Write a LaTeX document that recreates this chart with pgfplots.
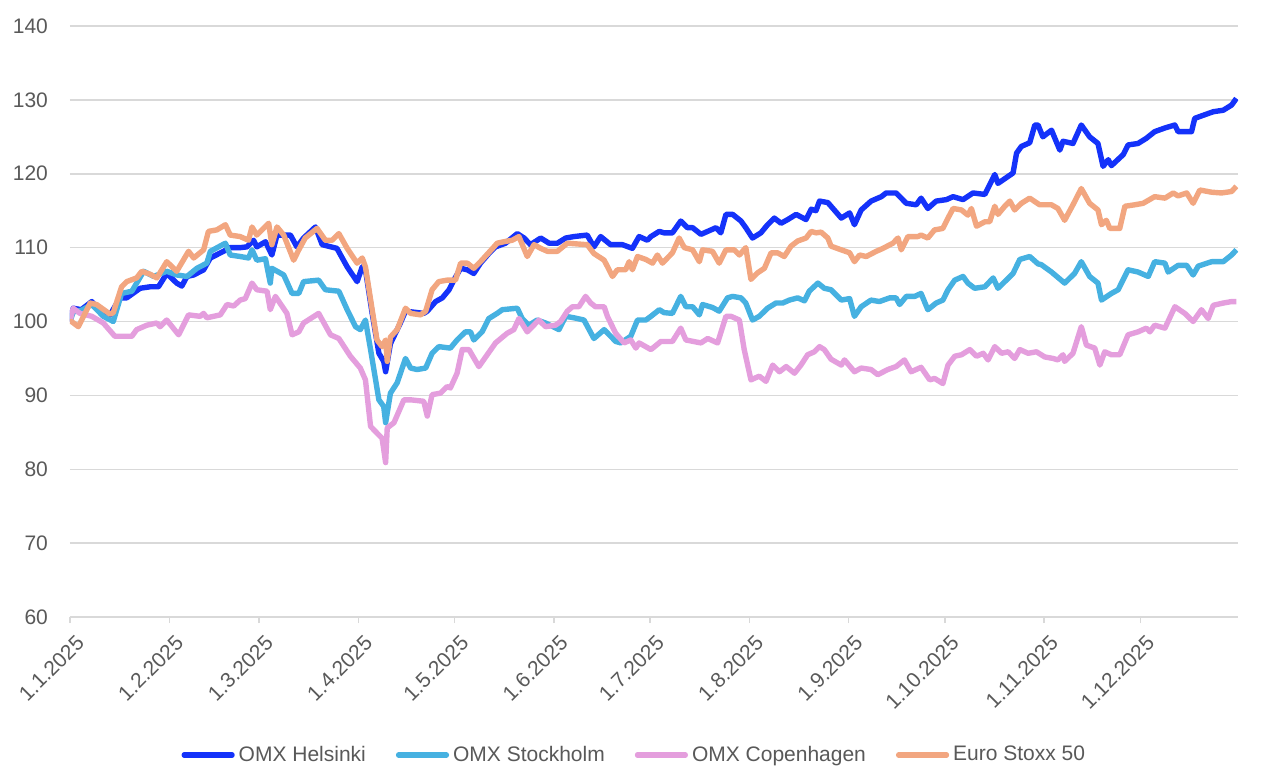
\documentclass[border=0pt]{standalone}
\usepackage{fontspec}
\setmainfont{Liberation Sans}
\usepackage{pgfplots}
\pgfplotsset{compat=1.18}
\definecolor{cH}{RGB}{20,50,250}
\definecolor{cS}{RGB}{70,177,225}
\definecolor{cC}{RGB}{228,158,221}
\definecolor{cE}{RGB}{242,166,128}
\definecolor{gridgray}{RGB}{217,217,217}
\definecolor{txt}{RGB}{89,89,89}
\begin{document}
\begin{tikzpicture}
\useasboundingbox (-35pt,-80.5pt) rectangle (598pt,308.5pt);
\begin{axis}[
  at={(0,0)}, anchor=south west,
  scale only axis, width=584pt, height=295.5pt,
  xmin=0, xmax=364.5, ymin=60, ymax=140,
  xtick={0,31,59,90,120,151,181,212,243,273,304,334},
  xticklabels={1.1.2025,1.2.2025,1.3.2025,1.4.2025,1.5.2025,1.6.2025,1.7.2025,1.8.2025,1.9.2025,1.10.2025,1.11.2025,1.12.2025},
  ytick={60,70,...,140},
  axis x line*=bottom, axis y line*=left,
  x axis line style={draw=gridgray, line width=0.75pt, -},
  y axis line style={draw=none},
  ymajorgrids, grid style={gridgray, line width=0.75pt},
  tick align=outside, major tick length=3pt,
  xtick style={draw=gridgray, line width=0.75pt},
  ytick style={draw=none},
  tick label style={font=\fontsize{10.5}{12}\selectfont, text=txt},
  /pgf/number format/assume math mode=true,
  xticklabel style={rotate=45, anchor=north east, xshift=-1pt, yshift=-4.5pt, inner sep=1pt},
  yticklabel style={xshift=-4.5pt},
  legend style={draw=none, at={(0.484,-0.2335)}, anchor=center, legend columns=4,
    font=\fontsize{10.5}{12}\selectfont, text=txt, inner sep=0pt,
    /tikz/every even column/.append style={column sep=13pt}},
  legend image code/.code={\draw[line width=2.6pt, line cap=round] (0pt,0pt) -- (24pt,0pt);},
  every axis plot/.append style={line width=2.7pt, line join=round, no markers},
]
\addplot[cH] table {
0 100
1 101.8
3.5 101.6
6.8 102.7
9.4 101.4
12.5 100.9
15.6 103.2
17.7 103.2
21.9 104.5
25 104.7
27.6 104.7
30.2 106.5
33.3 105.2
34.9 104.8
36.5 106.1
38.6 106.3
41.7 107
43.8 108.6
47.9 109.5
50 110
53.1 110
55.2 110.1
57.3 111
58.3 110.1
61 110.8
63 109
64.6 111.7
68.8 111.7
70.8 110.1
72.9 111.3
76.6 112.8
78.7 110.4
83.3 109.9
86.5 107.4
89.6 105.4
91.2 107.4
92.2 107
94.3 101.1
96.4 95.7
97.9 94.6
98.5 93.2
100 97
103.1 99.8
104.7 101.4
110.4 101.1
111.5 101.4
114.1 102.7
116.2 103.2
118.3 104.3
119.8 105.6
121.9 107.2
124 107
126 106.5
128.1 107.9
130.7 109.2
132.8 110.1
135.9 110.6
139.6 111.9
141.7 111.3
143.7 110.4
146.9 111.3
149.5 110.6
152.1 110.6
154.7 111.3
157.3 111.5
161.4 111.7
163.5 110.1
165.6 111.5
168.7 110.4
172.4 110.4
175.5 109.9
177.6 111.5
180.2 111
181.3 111.5
183.9 112.2
185.4 112
188 112
190.6 113.6
192.7 112.7
194.3 112.7
196.9 111.8
199 112.2
201.6 112.7
203.1 112
204.7 114.5
206.8 114.5
209.4 113.6
210.9 112.7
213 111.3
215.6 112
217.7 113.1
219.8 114
221.9 113.3
224 113.8
226.6 114.5
229.7 113.8
231.3 115.2
232.8 115
233.9 116.3
236.5 116.1
240.7 114
243.3 114.7
244.8 113.1
246.9 115.1
250 116.3
253.2 116.9
254.7 117.4
257.8 117.4
261 116
264.1 115.8
265.6 116.7
267.7 115.3
270.3 116.3
273.5 116.5
275.6 116.9
278.7 116.5
281.8 117.4
285.5 117.2
288.6 119.9
289.6 118.7
294.3 120.1
295.4 122.8
296.9 123.7
299.5 124.2
301.1 126.6
302.1 126.6
303.6 125
306.3 125.9
308.9 123.2
309.9 124.4
313 124.1
315.6 126.6
318.2 125
320.8 124.1
322.4 121
324 121.9
325 121.1
328.7 122.6
330.2 123.9
333.3 124.1
335.9 124.8
338.5 125.7
341.7 126.2
344.8 126.6
345.8 125.7
350 125.7
351 127.5
354.2 128
356.8 128.4
359.9 128.6
362.5 129.3
364 130.2
};
\addlegendentry{OMX Helsinki}
\addplot[cS] table {
0 100
1 101.3
3.5 101.5
6.8 102.3
10.4 100.7
13.5 100
16.1 103.8
19.3 104.1
23 106.8
26.1 106.1
30.2 106.8
33.3 106.3
36.5 106.1
39.6 107.2
42.7 107.9
43.8 109.5
48.5 110.6
50 109
53.1 108.8
55.7 108.6
56.8 109.7
58.3 108.3
61 108.5
62.5 105.2
63 107.2
66.7 106.3
69.3 103.8
71.4 103.8
72.9 105.4
77.6 105.6
79.7 104.3
83.9 104.1
86.5 101.6
89.1 99.3
90.6 98.9
92.2 100.2
93.8 96.2
96.4 89.4
97.9 88.5
98.5 86.3
100 90.3
102.1 91.7
104.7 95
106.3 93.7
108.3 93.5
111 93.7
113 95.7
115.1 96.6
118.7 96.4
120.8 97.5
123.4 98.6
125 98.6
126 97.5
128.6 98.6
130.7 100.4
133.3 101.1
134.9 101.6
139.6 101.8
141.1 100.4
143.2 99.5
145.8 100.2
148.4 99.8
152.6 98.9
154.7 100.7
157.3 100.5
160.4 100.2
163.5 97.7
166.7 98.9
170.3 97.3
171.9 97.1
175 98
177.1 100.2
179.7 100.2
181.3 100.7
183.9 101.6
185.4 101.2
188 101.1
190.6 103.4
192.2 102
194.3 102
196.4 100.9
197.4 102.3
200.5 101.9
202.6 101.4
205.2 103.2
206.8 103.4
209.4 103.2
210.9 102.5
213 100.2
215.1 100.7
217.7 101.8
220.3 102.5
222.4 102.5
224.5 102.9
227.1 103.2
229.2 102.8
230.7 104.1
233.4 105.2
235.4 104.5
237.5 104.3
240.7 102.9
243.3 103.1
244.8 100.7
246.9 102
250 102.9
252.6 102.7
255.8 103.2
257.8 103.2
258.9 102.3
261 103.4
263.6 103.4
265.6 103.8
267.7 101.6
270.3 102.5
272.4 102.9
274 104.3
276.1 105.6
278.7 106.1
280.2 105.2
282.3 104.5
285.5 104.7
288.1 105.9
289.6 104.5
292.2 105.6
294.3 106.5
296.4 108.4
299.5 108.8
302.1 107.8
303.1 107.7
306.3 106.7
310.4 105.2
313.5 106.5
315.6 108.1
318.2 106.1
320.8 105.2
321.9 102.9
325 103.8
327.1 104.3
330.2 107
333.3 106.7
336.5 106.1
338.5 108.1
341.7 107.9
342.7 106.7
345.8 107.6
348.5 107.6
350.5 106.3
352.1 107.5
356.3 108.1
359.9 108.1
362.5 109
364 109.7
};
\addlegendentry{OMX Stockholm}
\addplot[cC] table {
0 100
1 101.8
3.1 101.1
6.8 100.7
10.4 99.8
14 98
16.7 98
19.3 98
20.8 98.9
24 99.5
27.1 99.8
28.1 99.3
30.2 100.2
33.9 98.2
37 100.9
40.6 100.7
41.7 101.1
42.7 100.5
46.9 100.9
49 102.3
51.1 102.1
53.1 102.9
54.7 103.1
56.8 105.2
58.3 104.3
61.5 104.1
62.5 101.6
64.1 103.4
67.7 101.1
69.3 98.2
71.4 98.6
72.9 99.8
77.6 101.1
81.3 98.2
83.9 97.7
87.5 95.3
90.6 93.7
92.2 92.1
93.8 85.8
95.8 84.9
97.4 84.2
98.5 80.9
99 85.6
101.1 86.3
104.2 89.4
106.3 89.4
110.4 89.2
111.5 87.2
113 90.1
115.6 90.3
117.7 91.2
118.7 91
120.8 93
122.4 96.2
124.5 96.2
127.6 93.9
130.2 95.5
132.8 97.1
136.4 98.4
138.5 98.9
140.1 100.4
142.7 98.6
146.3 100.2
148.4 99.3
151.5 99.5
153.1 100
155.2 101.4
156.8 102
158.8 102
160.9 103.4
162.5 102.5
164 102
166.7 102
167.7 100.7
170.3 98.4
172.9 97.1
175 97.5
176.6 96.4
177.6 97.1
181.3 96.2
184.4 97.3
188 97.3
190.6 99.1
192.2 97.5
196.9 97.1
199 97.7
202.1 97.1
204.7 100.7
206.3 100.7
208.9 100.2
210.4 96.2
212.5 92.1
215.1 92.6
217.2 91.9
219.3 94.1
221.4 93.2
223.5 93.9
226.1 93
228.1 94.1
230.2 95.5
232.3 95.9
233.9 96.6
235.4 96.2
237.5 94.9
240.7 94.1
241.7 94.8
244.8 93.2
246.9 93.7
250 93.5
252.1 92.8
255.2 93.5
257.8 93.9
260.4 94.8
262.5 93.2
265.6 93.8
268.3 92.1
269.8 92.3
272.4 91.6
274 94.1
276.1 95.3
278.2 95.5
280.8 96.2
282.9 95.3
285 95.7
286.5 94.8
288.6 96.6
290.7 95.7
292.8 95.9
294.8 95
296.4 96.2
299 95.7
301.6 95.9
304.2 95.2
306.8 95
308.3 94.8
309.9 95.5
310.4 94.6
313 95.7
315.6 99.3
317.2 96.8
319.8 96.4
321.4 94.1
322.9 95.9
325 95.5
327.6 95.5
330.2 98.2
333.3 98.6
335.9 99.1
337 98.6
338.5 99.5
341.7 99.1
344.8 102
347.9 101.1
350.5 100
353.1 101.6
355.2 100.4
356.8 102.2
359.9 102.5
362.5 102.7
364 102.7
};
\addlegendentry{OMX Copenhagen}
\addplot[cE] table {
0 100
0.5 100
2.6 99.3
6.3 102.5
8.3 102.3
12.5 101
13.5 101.2
16.1 104.7
17.7 105.4
20.8 105.9
22.4 106.8
25 106.4
27.1 105.9
30.2 108.1
33.3 106.8
37 109.5
38.6 108.6
41.7 109.7
43.2 112.2
45.8 112.4
48.5 113.1
50 111.7
53.1 111.5
55.7 111
56.8 112.8
58.3 111.7
62 113.3
63 110.4
64.6 112.8
66.7 111.7
69.8 108.3
71.4 109.7
73.4 111.3
77.1 112.6
79.7 111
81.8 111
83.9 111.9
86.5 109.9
89.6 107.9
91.2 108.6
92.2 107.4
94.3 101.6
95.8 97.5
97.4 96.6
98.5 97.5
99 94.6
100 97.9
102.1 98.9
104.7 101.8
106.3 101.1
109.4 100.9
111 101.4
113 104.3
115.1 105.4
117.7 105.6
120.3 105.6
121.9 107.9
124 107.9
126 107.2
128.1 108.1
132.3 110.1
133.3 110.6
135.4 110.8
138 111
140.1 111.5
142.7 108.8
144.8 110.4
146.9 109.9
149 109.5
152.1 109.5
155.2 110.6
161.4 110.4
163.5 109.2
166.7 108.3
169.3 106.1
170.8 107
173.4 107
174.5 108.1
175.5 107
177.1 108.8
179.7 108.4
181.8 107.9
183.3 109
184.9 107.9
188 109.3
190.1 111.3
191.7 110
194.3 109.7
196.4 108.1
197.4 109.7
200.5 109.5
202.6 107.9
204.7 109.7
207.3 109.7
208.9 109
210.9 110
212.5 105.7
214.6 106.6
216.7 107.2
218.8 109.3
220.8 109.3
222.9 108.8
225 110.2
227.1 110.9
229.7 111.3
231.3 112.2
232.8 112
234.4 112.1
236.5 111.3
237.5 110.2
240.7 109.7
243.3 109.3
244.8 108.1
246.4 109
248.5 108.8
251.6 109.5
253.7 109.9
256.8 110.6
258.4 111.3
259.4 109.7
261.5 111.5
264.6 111.5
265.6 111.7
267.7 111.3
269.8 112.4
272.4 112.6
274 114
275.6 115.3
278.2 115.1
280.2 114.4
281.3 115.3
282.9 112.9
285.5 113.5
287 113.5
288.6 115.6
289.6 114.5
291.7 115.6
293.3 116.3
294.8 115.1
296.9 116
299.5 116.7
302.6 115.8
306.3 115.8
308.3 115.3
310.4 113.7
313 115.8
315.6 118
318.2 116
320.8 115.1
321.9 113.1
323.4 113.7
324.5 112.6
327.6 112.6
329.2 115.6
332.3 115.8
334.9 116
338.5 116.9
341.7 116.7
344.3 117.4
345.8 117
348.5 117.4
350.5 116
352.6 117.8
356.3 117.5
359.4 117.4
362.5 117.6
364 118.3
};
\addlegendentry{Euro Stoxx 50}
\end{axis}
\end{tikzpicture}
\end{document}
